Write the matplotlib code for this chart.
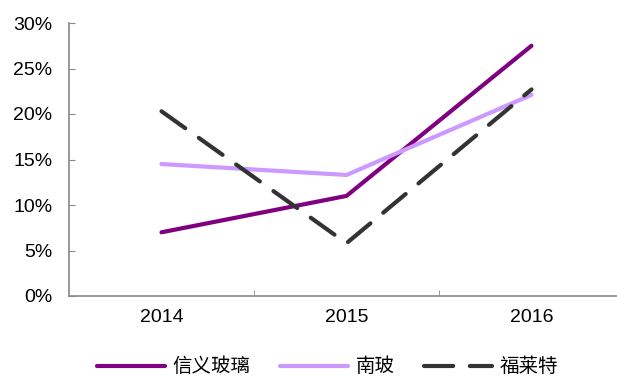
import matplotlib
matplotlib.use("Agg")
import matplotlib.pyplot as plt
from matplotlib.ticker import FuncFormatter

plt.rcParams['font.family'] = ['Liberation Sans', 'Noto Sans CJK SC', 'DejaVu Sans']

years = ["2014", "2015", "2016"]
xinyi = [7.0, 11.0, 27.5]
nanbo = [14.5, 13.3, 22.1]
fulaite = [20.3, 5.8, 22.7]
series_names = ["信义玻璃", "南玻", "福莱特"]

fig = plt.figure(figsize=(6.17, 3.76), dpi=100)
ax = fig.add_axes([69 / 617, 1 - 296 / 376, 555 / 617, 273 / 376])

x = list(range(len(years)))
ax.plot(x, xinyi, color="#800080", lw=3, solid_capstyle="round", label=series_names[0])
ax.plot(x, nanbo, color="#CC99FF", lw=3, solid_capstyle="round", label=series_names[1])
ax.plot(x, fulaite, color="#333333", lw=3, dashes=(7, 4), dash_capstyle="round", label=series_names[2])

ax.set_xlim(-0.5, 2.5)
ax.set_ylim(0, 30)
ax.set_yticks(range(0, 31, 5))
ax.yaxis.set_major_formatter(FuncFormatter(lambda v, p: f"{int(v)}%"))
ax.set_xticks(x)
ax.set_xticklabels(years)
ax.set_xticks([0.5, 1.5], minor=True)

for s in ["top", "right"]:
    ax.spines[s].set_visible(False)
for s in ["left", "bottom"]:
    ax.spines[s].set_color("#888888")
    ax.spines[s].set_linewidth(1.2)

ax.tick_params(axis="y", direction="in", length=4, color="#888888", labelsize=14, pad=12)
ax.tick_params(axis="x", which="major", length=0, labelsize=14, pad=9)
ax.tick_params(axis="x", which="minor", direction="in", length=4, color="#888888")

fig.legend(loc="center", bbox_to_anchor=(0.531, 0.024), ncol=3, frameon=False,
           fontsize=14, handlelength=3.5, columnspacing=1.5, handletextpad=0.4,
           borderpad=0, borderaxespad=0)

fig.savefig("out.png", dpi=100)
